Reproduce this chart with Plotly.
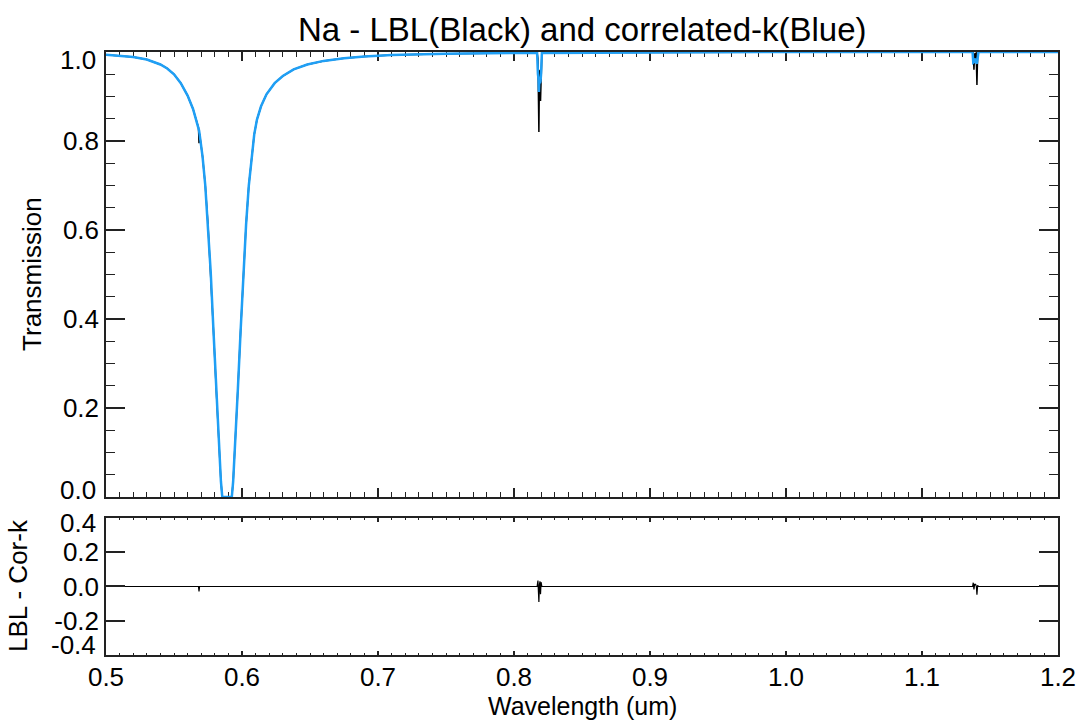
import numpy as np
import plotly.graph_objects as go

# Wavelength grid (um) with LBL and correlated-k transmission of Na
wavelength = [
    0.5000, 0.5100, 0.5200, 0.5300, 0.5400, 0.5450, 0.5500, 0.5550, 0.5600,
    0.5640, 0.5670, 0.5680, 0.5684, 0.5688, 0.5710, 0.5730, 0.5750, 0.5770,
    0.5790, 0.5810, 0.5830, 0.5845, 0.5855, 0.5925, 0.5935, 0.5950, 0.5970,
    0.5990, 0.6010, 0.6030, 0.6050, 0.6070, 0.6090, 0.6110, 0.6140, 0.6180,
    0.6240, 0.6300, 0.6380, 0.6480, 0.6600, 0.6750, 0.6900, 0.7100, 0.7500,
    0.8000, 0.8170, 0.8176, 0.8180, 0.8183, 0.8187, 0.8191, 0.8195, 0.8199,
    0.8205, 0.8500, 0.9000, 1.0000, 1.1000, 1.1372, 1.1377, 1.1382, 1.1387,
    1.1394, 1.1400, 1.1404, 1.1409, 1.1415, 1.2000,
]

t_ck = [
    0.994, 0.992, 0.989, 0.983, 0.972, 0.963, 0.950, 0.930, 0.902,
    0.872, 0.842, 0.830, 0.824, 0.816, 0.765, 0.700, 0.612, 0.505,
    0.375, 0.245, 0.115, 0.035, 0.000, 0.000, 0.035, 0.115, 0.245,
    0.375, 0.505, 0.612, 0.700, 0.765, 0.815, 0.848, 0.878, 0.905,
    0.930, 0.946, 0.961, 0.972, 0.980, 0.986, 0.990, 0.993, 0.996,
    0.998, 0.998, 0.950, 0.940, 0.910, 0.940, 0.930, 0.935, 0.950,
    0.998, 0.999, 0.999, 1.000, 1.000, 1.000, 0.976, 0.977, 0.982,
    0.985, 0.976, 0.974, 0.985, 1.000, 1.000,
]

t_lbl = [
    0.994, 0.992, 0.989, 0.983, 0.972, 0.963, 0.950, 0.930, 0.902,
    0.872, 0.842, 0.830, 0.795, 0.816, 0.765, 0.700, 0.612, 0.505,
    0.375, 0.245, 0.115, 0.035, 0.000, 0.000, 0.035, 0.115, 0.245,
    0.375, 0.505, 0.612, 0.700, 0.765, 0.815, 0.848, 0.878, 0.905,
    0.930, 0.946, 0.961, 0.972, 0.980, 0.986, 0.990, 0.993, 0.996,
    0.998, 0.998, 0.985, 0.930, 0.820, 0.950, 0.960, 0.890, 0.975,
    0.998, 0.999, 0.999, 1.000, 1.000, 1.000, 0.998, 0.960, 0.995,
    0.998, 0.975, 0.926, 0.992, 1.000, 1.000,
]

# Tick labels; the end labels are nudged inward like the original plotting package
trans_tickvals = [0.0, 0.2, 0.4, 0.6, 0.8, 1.0]
trans_ticktext = ["", "0.2", "0.4", "0.6", "0.8", ""]
trans_end_labels = [(0.0, "0.0", 7), (1.0, "1.0", -8)]

diff_tickvals = [-0.4, -0.2, 0.0, 0.2, 0.4]
diff_ticktext = ["", "-0.2", "0.0", "0.2", ""]
diff_end_labels = [(-0.4, "-0.4", 10), (0.4, "0.4", -5)]

difference = np.array(t_lbl) - np.array(t_ck)

FONT = "Liberation Sans, Arial, Helvetica, sans-serif"
BLUE = "#1f9ff5"
AX = "#222222"
TICK_SIZE = 26

fig = go.Figure()
fig.add_trace(go.Scatter(x=wavelength, y=t_lbl, mode="lines",
                         line=dict(color="black", width=1.5),
                         xaxis="x", yaxis="y", showlegend=False))
fig.add_trace(go.Scatter(x=wavelength, y=t_ck, mode="lines",
                         line=dict(color=BLUE, width=2.5),
                         xaxis="x", yaxis="y", showlegend=False))
fig.add_trace(go.Scatter(x=wavelength, y=difference, mode="lines",
                         line=dict(color="black", width=1.2),
                         xaxis="x2", yaxis="y2", showlegend=False))

common = dict(showline=True, linecolor=AX, linewidth=1.5, mirror="allticks",
              ticks="inside", tickcolor=AX, showgrid=False, zeroline=False,
              automargin=False,
              tickfont=dict(family=FONT, size=TICK_SIZE, color="black"))

annotations = [
    dict(text="Na - LBL(Black) and correlated-k(Blue)", xref="paper",
         yref="paper", x=0.5, y=1.0365, xanchor="center",
         yanchor="middle", showarrow=False,
         font=dict(family=FONT, size=33, color="black")),
    dict(text="Wavelength (um)", xref="paper", yref="paper",
         x=0.5, y=-0.0845, xanchor="center", yanchor="middle",
         showarrow=False, font=dict(family=FONT, size=25, color="black")),
    dict(text="Transmission", xref="paper", yref="paper",
         x=-0.0777, y=0.632, xanchor="center", yanchor="middle",
         textangle=-90, showarrow=False,
         font=dict(family=FONT, size=26, color="black")),
    dict(text="LBL - Cor-k", xref="paper", yref="paper",
         x=-0.0924, y=0.1144, xanchor="center", yanchor="middle",
         textangle=-90, showarrow=False,
         font=dict(family=FONT, size=26, color="black")),
]
for yref, labels in (("y", trans_end_labels), ("y2", diff_end_labels)):
    for val, txt, shift in labels:
        annotations.append(dict(
            text=txt, xref="paper", yref=yref, x=0, y=val,
            xanchor="right", yanchor="middle", xshift=-8, yshift=shift,
            showarrow=False,
            font=dict(family=FONT, size=TICK_SIZE, color="black")))

fig.update_layout(
    width=1080, height=720,
    margin=dict(l=106, r=22, t=52, b=65),
    paper_bgcolor="white", plot_bgcolor="white",
    font=dict(family=FONT, color="black"),
    xaxis=dict(common, domain=[0, 1], range=[0.5, 1.2], anchor="y",
               dtick=0.1, tick0=0.5, ticklen=9, tickwidth=1.5,
               showticklabels=False, layer="below traces",
               minor=dict(dtick=0.01, ticklen=5, ticks="inside",
                          tickcolor=AX, tickwidth=1)),
    yaxis=dict(common, domain=[0.262, 1], range=[0, 1.0], anchor="x",
               tickvals=trans_tickvals, ticktext=trans_ticktext,
               ticklen=19, tickwidth=1.5, layer="below traces",
               minor=dict(dtick=0.05, ticklen=9, ticks="inside",
                          tickcolor=AX, tickwidth=1)),
    xaxis2=dict(common, domain=[0, 1], range=[0.5, 1.2], anchor="y2",
                dtick=0.1, tick0=0.5, ticklen=4, tickwidth=1.5,
                tickformat=".1f", ticklabelstandoff=-2,
                minor=dict(dtick=0.01, ticklen=2, ticks="inside",
                           tickcolor=AX, tickwidth=1)),
    yaxis2=dict(common, domain=[0, 0.2272], range=[-0.4, 0.4], anchor="x2",
                tickvals=diff_tickvals, ticktext=diff_ticktext,
                ticklen=19, tickwidth=1.5),
    annotations=annotations,
)

fig.write_html("out.html")
